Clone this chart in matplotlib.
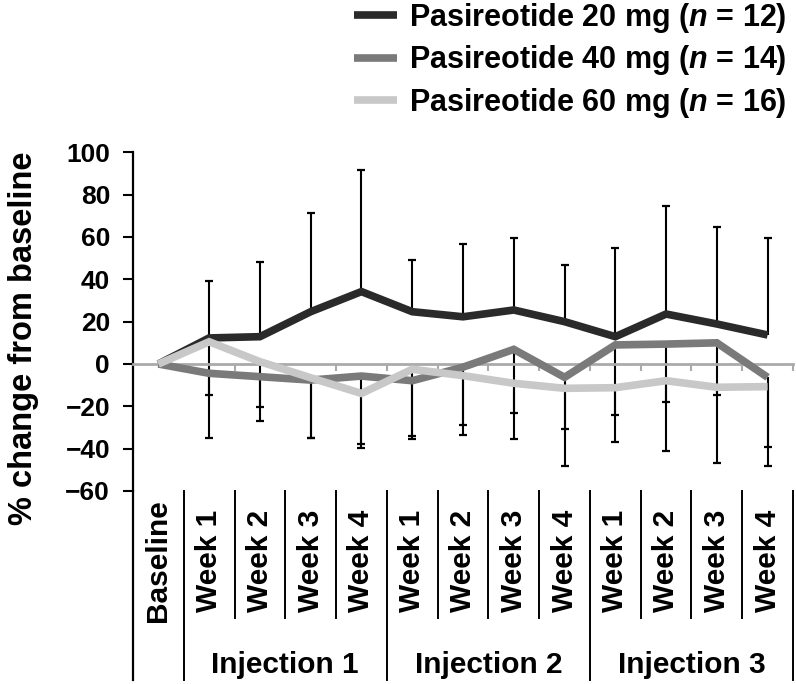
import matplotlib
matplotlib.use('Agg')
import matplotlib.pyplot as plt
from matplotlib import transforms

# === DATA ===
timepoints = ["Baseline", "Week 1", "Week 2", "Week 3", "Week 4",
              "Week 1", "Week 2", "Week 3", "Week 4",
              "Week 1", "Week 2", "Week 3", "Week 4"]
injections = ["Injection 1", "Injection 2", "Injection 3"]
labels = ["Pasireotide 20 mg ($n$ = 12)",
          "Pasireotide 40 mg ($n$ = 14)",
          "Pasireotide 60 mg ($n$ = 16)"]

mean_20 = [0, 12.3, 12.9, 24.7, 34.2, 24.7, 22.3, 25.5, 20.0, 12.9, 23.6, 18.9, 13.7]
mean_40 = [0, -4.4, -6.0, -7.6, -5.7, -7.9, -1.5, 6.9, -6.3, 9.0, 9.4, 10.0, -6.3]
mean_60 = [0, 10.5, 1.1, -6.5, -13.9, -2.5, -5.5, -9.1, -11.5, -11.2, -7.9, -11.0, -10.7]

# SD shown one-sided: 20 mg upward, 40/60 mg downward
sd_20 = [0, 27.0, 35.4, 46.5, 57.4, 24.4, 34.4, 34.2, 26.8, 42.0, 51.2, 45.7, 46.0]
sd_40 = [0, 10.2, 14.2, 27.5, 32.1, 25.9, 27.3, 30.2, 24.6, 33.1, 27.2, 24.6, 32.7]
sd_60 = [0, 45.6, 28.0, 28.6, 25.9, 33.1, 28.0, 26.5, 36.5, 25.8, 33.2, 35.6, 37.3]

colors = ['#2a2a2a', '#7a7a7a', '#c8c8c8']

# === STYLE ===
plt.rcParams['font.family'] = ['Liberation Sans', 'DejaVu Sans']
plt.rcParams['font.weight'] = 'bold'
plt.rcParams['mathtext.fontset'] = 'custom'
plt.rcParams['mathtext.rm'] = 'Liberation Sans:bold'
plt.rcParams['mathtext.it'] = 'Liberation Sans:bold:italic'
plt.rcParams['mathtext.bf'] = 'Liberation Sans:bold'

W, H = 796, 684
fig = plt.figure(figsize=(W / 100, H / 100), dpi=100)
ax = fig.add_axes([133 / W, 1 - 491 / H, 660 / W, (491 - 152.3) / H])

x = list(range(len(timepoints)))
zeros = [0] * len(x)

# === ERROR BARS ===
for means, lo, hi in [(mean_20, zeros, sd_20), (mean_40, sd_40, zeros), (mean_60, sd_60, zeros)]:
    _, caps, _ = ax.errorbar(x, means, yerr=[lo, hi], fmt='none', ecolor='black',
                             elinewidth=1.5, capsize=3, capthick=1.6,
                             errorevery=(1, 1), zorder=2)
    if hi is zeros:
        caps[1].set_visible(False)
    else:
        caps[0].set_visible(False)

# === LINES ===
handles = []
for i, (means, lab) in enumerate(zip([mean_20, mean_40, mean_60], labels)):
    ln, = ax.plot(x, means, color=colors[i], lw=5.5, solid_joinstyle='miter',
                  solid_capstyle='butt', label=lab, zorder=3 + i)
    handles.append(ln)

# === AXES ===
ax.set_xlim(-0.5, 12.5)
ax.set_ylim(-60, 100)
ax.set_yticks(range(-60, 101, 20))
ax.tick_params(axis='y', direction='out', length=7.5, width=1.5, pad=9, labelsize=19)
ax.spines['left'].set_linewidth(1.6)
ax.spines['left'].set_bounds(-60, 100)
ax.spines['top'].set_visible(False)
ax.spines['right'].set_visible(False)
ax.spines['bottom'].set_position(('data', 0))
ax.spines['bottom'].set_color('#aaaaaa')
ax.spines['bottom'].set_linewidth(2)
ax.set_xticks([k + 0.5 for k in range(len(x))])
ax.tick_params(axis='x', direction='out', length=5, width=1.5, color='#aaaaaa',
               labelbottom=False)
ax.patch.set_visible(False)

fig.text(24 / W, 1 - 338 / H, "% change from baseline", rotation=90,
         ha='center', va='center', fontsize=23.5)

# === CATEGORY BOX BELOW ===
trans = transforms.blended_transform_factory(ax.transData, fig.transFigure)
y_top = 1 - 491 / H
y_week = 1 - 618 / H
y_group = 1 - 680 / H
ax.plot([-0.5, -0.5], [y_top, y_group], color='black', lw=1.6, transform=trans, clip_on=False)
for b in [k + 0.5 for k in range(len(x))]:
    end = y_group if b in (0.5, 4.5, 8.5, 12.5) else y_week
    ax.plot([b, b], [y_top, end], color='black', lw=1.4, transform=trans, clip_on=False)

for i, t in enumerate(timepoints):
    ax.text(i, 1 - 561 / H, t, rotation=90, ha='center', va='center',
            fontsize=21.5, transform=trans)

for j, inj in enumerate(injections):
    ax.text(2.5 + 4 * j, 1 - 673 / H, inj, ha='center', va='baseline',
            fontsize=21.5, transform=trans)

# === LEGEND ===
fig.legend(handles=handles, loc='upper right', bbox_to_anchor=(787 / W, 1 - 1 / H),
           frameon=False, fontsize=22, handlelength=1.4, handletextpad=0.4,
           labelspacing=0.27, borderpad=0, borderaxespad=0)

fig.savefig('out.png', dpi=100)
